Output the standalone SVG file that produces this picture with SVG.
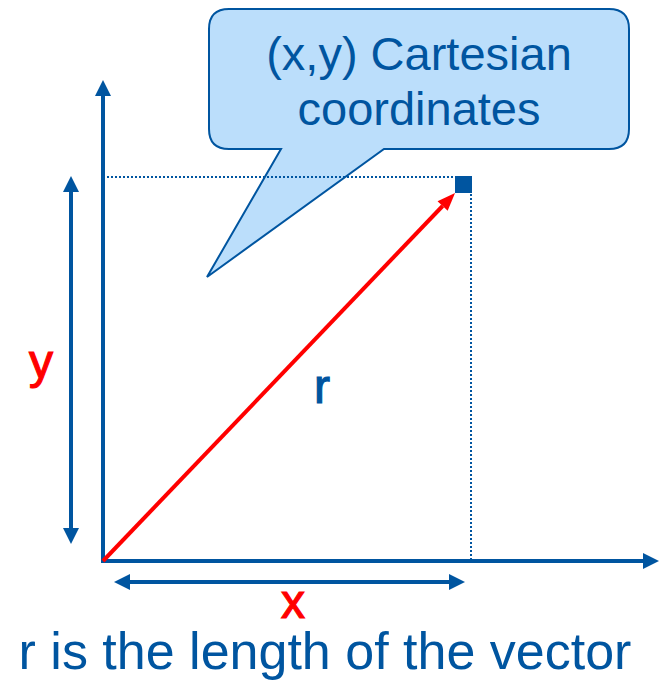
<svg xmlns="http://www.w3.org/2000/svg" width="659" height="681" viewBox="0 0 659 681">
  <style>
    .axis { stroke: #0055a0; stroke-width: 4; fill: none; }
    .dot { stroke: #0055a0; stroke-width: 2; stroke-dasharray: 2 2; fill: none; }
    .red { stroke: #ff0000; stroke-width: 4; fill: none; }
    .blue { fill: #0055a0; font-family: "Liberation Sans", Arial, sans-serif; }
    .redt { fill: #ff0000; stroke: #ff0000; stroke-width: 1.2; font-family: "Liberation Sans", Arial, sans-serif; }
    .lab { stroke: #0055a0; stroke-width: 1.2; }
  </style>
  <defs>
    <marker id="bh" markerUnits="userSpaceOnUse" markerWidth="16" markerHeight="16" refX="0" refY="8" orient="auto-start-reverse" overflow="visible">
      <path d="M0,0 L16,8 L0,16 z" fill="#0055a0"/>
    </marker>
    <marker id="rh" markerUnits="userSpaceOnUse" markerWidth="18" markerHeight="14" refX="0" refY="7" orient="auto" overflow="visible">
      <path d="M0,0 L18,7 L0,14 z" fill="#ff0000"/>
    </marker>
  </defs>
  <rect width="659" height="681" fill="#ffffff"/>

  <g id="callout">
    <path d="M229,9 H609 Q629,9 629,29 V129 Q629,149 609,149 H384 L207,277 L281,149 H229 Q209,149 209,129 V29 Q209,9 229,9 Z" fill="#bbdefb" stroke="#0055a0" stroke-width="2"/>
    <text class="blue" x="419" y="70" font-size="47" text-anchor="middle">(x,y) Cartesian</text>
    <text class="blue" x="419" y="125" font-size="47" text-anchor="middle">coordinates</text>
  </g>

  <g id="connectors">
    <line class="dot" x1="107" y1="177" x2="455" y2="177"/>
    <line class="dot" x1="471" y1="194" x2="471" y2="559"/>
    <line class="axis" x1="103" y1="563" x2="103" y2="96" marker-end="url(#bh)"/>
    <line class="axis" x1="101" y1="561" x2="643" y2="561" marker-end="url(#bh)"/>
    <line class="axis" x1="71" y1="192" x2="71" y2="528" marker-start="url(#bh)" marker-end="url(#bh)"/>
    <line class="axis" x1="130" y1="582" x2="449" y2="582" marker-start="url(#bh)" marker-end="url(#bh)"/>
    <line class="red" x1="103" y1="561" x2="442.6" y2="206" marker-end="url(#rh)"/>
  </g>

  <g id="point">
    <rect x="455" y="176" width="17" height="17" fill="#0055a0"/>
  </g>

  <g id="labels">
    <text class="blue lab" x="322" y="403" font-size="48" text-anchor="middle">r</text>
    <text class="redt" x="41" y="378" font-size="48" text-anchor="middle">y</text>
    <text class="redt" x="293" y="618" font-size="48" text-anchor="middle">x</text>
    <text class="blue" x="325" y="669" font-size="52" text-anchor="middle">r is the length of the vector</text>
  </g>
</svg>
